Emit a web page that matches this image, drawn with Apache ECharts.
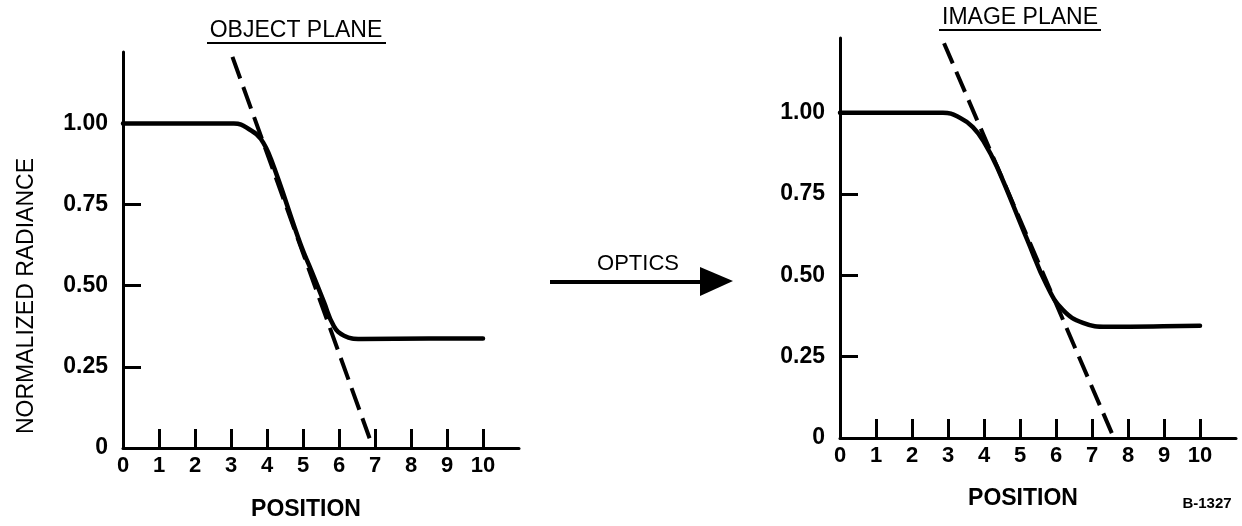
<!DOCTYPE html>
<html>
<head>
<meta charset="utf-8">
<script src="https://cdn.jsdelivr.net/npm/echarts@6/dist/echarts.min.js"></script>
<style>
html,body{margin:0;padding:0;background:#fff;}
#chart{width:1242px;height:526px;}
</style>
</head>
<body>
<div id="chart"></div>
<script>
// ---- data ----
var objectPos = [0, 1.5, 3.08, 3.56, 3.83, 4.11, 4.94, 5.22, 5.58, 5.86, 6.14, 6.61, 8.5, 10];
var objectVal = [1.00, 1.00, 1.00, 0.978, 0.952, 0.89, 0.625, 0.55, 0.45, 0.375, 0.346, 0.336, 0.337, 0.337];
var objectTangentPos = [3.04, 6.85];
var objectTangentVal = [1.205, 0.03];

var imagePos = [0, 1.5, 2.86, 3.33, 3.69, 4.0, 4.36, 5.2, 5.75, 6.19, 6.75, 7.42, 8.7, 10];
var imageVal = [1.00, 1.00, 1.00, 0.985, 0.956, 0.91, 0.834, 0.61, 0.468, 0.394, 0.354, 0.342, 0.343, 0.345];
var imageTangentPos = [2.89, 7.55];
var imageTangentVal = [1.214, 0.015];

var xTickLabels = [0, 1, 2, 3, 4, 5, 6, 7, 8, 9, 10];
var xTickMarks = [1, 2, 3, 4, 5, 6, 7, 8, 9, 10];
var yTickLabels = [0, 0.25, 0.5, 0.75, 1.0];
var yTickMarks = [0.25, 0.5, 0.75];

var titles = ['OBJECT PLANE', 'IMAGE PLANE'];
var xName = 'POSITION';
var yName = 'NORMALIZED RADIANCE';
var arrowLabel = 'OPTICS';
var figureId = 'B-1327';

function pairs(xs, ys) { return xs.map(function (x, i) { return [x, ys[i]]; }); }

var FONT = '"Liberation Sans", Arial, Helvetica, sans-serif';
var black = '#000';

function xAxisCfg(gridIndex, nameGap) {
  return {
    type: 'value', gridIndex: gridIndex, min: 0, max: 11, interval: 1,
    name: xName, nameLocation: 'middle', nameGap: nameGap,
    nameTextStyle: { fontFamily: FONT, fontSize: 23, fontWeight: 'bold', color: black, padding: [0, 30, 0, 0] },
    axisLine: { show: true, lineStyle: { color: black, width: 3 } },
    axisTick: { show: true, inside: true, length: 19, lineStyle: { color: black, width: 3 }, customValues: xTickMarks },
    axisLabel: { show: true, margin: 7, fontFamily: FONT, fontSize: 22, fontWeight: 'bold', color: black, customValues: xTickLabels },
    splitLine: { show: false }
  };
}
function yAxisCfg(gridIndex, max, withName, margin) {
  var c = {
    type: 'value', gridIndex: gridIndex, min: 0, max: max, interval: 0.25,
    axisLine: { show: true, lineStyle: { color: black, width: 3 } },
    axisTick: { show: true, inside: true, length: 18, lineStyle: { color: black, width: 3 }, customValues: yTickMarks },
    axisLabel: { show: true, margin: margin, fontFamily: FONT, fontSize: 23, fontWeight: 'bold', color: black,
      customValues: yTickLabels,
      formatter: function (v) { return v === 0 ? '0' : v.toFixed(2); } },
    splitLine: { show: false }
  };
  if (withName) {
    c.name = yName; c.nameLocation = 'middle'; c.nameGap = 85; c.nameRotate = 90;
    c.nameTextStyle = { fontFamily: FONT, fontSize: 23, color: black, padding: [0, 92, 0, 0] };
  }
  return c;
}
function curve(idx, data) {
  return { type: 'line', xAxisIndex: idx, yAxisIndex: idx, data: data, smooth: 0.45,
    showSymbol: false, symbol: 'none', silent: true,
    lineStyle: { color: black, width: 4.5, cap: 'round', join: 'round' } };
}
function tangent(idx, data, dash) {
  return { type: 'line', xAxisIndex: idx, yAxisIndex: idx, data: data, showSymbol: false, symbol: 'none', silent: true,
    lineStyle: { color: black, width: 4, type: dash, cap: 'butt' } };
}

var chart = echarts.init(document.getElementById('chart'), null, { renderer: 'canvas' });
chart.setOption({
  backgroundColor: '#fff',
  animation: false,
  grid: [
    { left: 123, top: 52, width: 396, height: 399 },
    { left: 840, top: 38, width: 396, height: 400 }
  ],
  xAxis: [xAxisCfg(0, 50), xAxisCfg(1, 49)],
  yAxis: [yAxisCfg(0, 1.22, true, 15), yAxisCfg(1, 1.23, false, 15)],
  series: [
    curve(0, pairs(objectPos, objectVal)),
    tangent(0, pairs(objectTangentPos, objectTangentVal), [23, 9]),
    curve(1, pairs(imagePos, imageVal)),
    tangent(1, pairs(imageTangentPos, imageTangentVal), [22, 9])
  ],
  graphic: [
    { type: 'text', x: 296, y: 31, style: { text: titles[0], font: '23px ' + FONT, fill: black, textAlign: 'center', textVerticalAlign: 'middle' } },
    { type: 'line', shape: { x1: 207, y1: 43, x2: 386, y2: 43 }, style: { stroke: black, lineWidth: 2 } },
    { type: 'text', x: 1020, y: 18, style: { text: titles[1], font: '23px ' + FONT, fill: black, textAlign: 'center', textVerticalAlign: 'middle' } },
    { type: 'line', shape: { x1: 939, y1: 30, x2: 1101, y2: 30 }, style: { stroke: black, lineWidth: 2 } },
    { type: 'text', x: 638, y: 264, style: { text: arrowLabel, font: '22px ' + FONT, fill: black, textAlign: 'center', textVerticalAlign: 'middle' } },
    { type: 'line', shape: { x1: 550, y1: 282, x2: 705, y2: 282 }, style: { stroke: black, lineWidth: 4 } },
    { type: 'polygon', shape: { points: [[700, 267], [733, 281], [700, 296]] }, style: { fill: black } },
    { type: 'text', x: 1207, y: 504, style: { text: figureId, font: 'bold 15px ' + FONT, fill: black, textAlign: 'center', textVerticalAlign: 'middle' } }
  ]
});
</script>
</body>
</html>
